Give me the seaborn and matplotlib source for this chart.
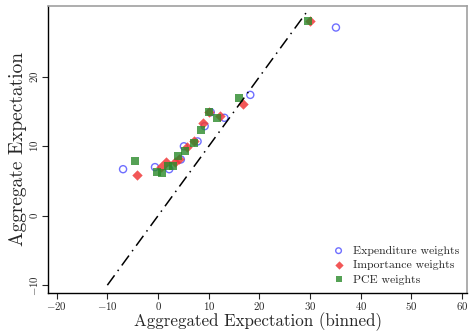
import pandas as pd
import seaborn as sns
import matplotlib.pyplot as plt

# expenditure weights (binned expectation, aggregate expectation)
exp_x = [-6.9, -0.6, 2.2, 4.5, 5.1, 7.8, 9.2, 10.4, 13.1, 18.2, 35.1]
exp_y = [6.7, 7.0, 6.7, 8.1, 10.0, 10.7, 12.9, 14.9, 14.1, 17.4, 27.1]

imp_x = [-4.1, 0.6, 1.6, 3.3, 4.1, 5.7, 7.1, 8.8, 10.0, 12.2, 16.7, 30.0]
imp_y = [5.9, 7.0, 7.7, 7.7, 8.1, 9.9, 10.7, 13.4, 14.9, 14.3, 16.1, 28.1]

pce_x = [-4.5, -0.2, 0.7, 1.9, 2.9, 3.9, 5.3, 7.0, 8.4, 10.0, 11.7, 15.9, 29.6]
pce_y = [7.9, 6.3, 6.1, 7.1, 7.2, 8.6, 9.3, 10.5, 12.4, 15.0, 14.0, 17.0, 28.1]

sns.set_style("white")
plt.rcParams['font.family'] = ['cmr10', 'DejaVu Serif']
plt.rcParams['axes.formatter.use_mathtext'] = True

fig, ax = plt.subplots(figsize=(4.71, 3.32), dpi=100)

ax.plot([-10, 29.5], [-10, 29.5], color="black", lw=1.1, dashes=[8, 3.5, 1, 3.5])

sns.scatterplot(x=exp_x, y=exp_y, ax=ax, marker="o", s=26, facecolors="none",
                edgecolor="#6f6fff", linewidth=1.0, label="Expenditure weights")
sns.scatterplot(x=imp_x, y=imp_y, ax=ax, marker="D", s=28, color="#f03a3a",
                alpha=0.85, linewidth=0, label="Importance weights")
sns.scatterplot(x=pce_x, y=pce_y, ax=ax, marker="s", s=28, color="#2a8a2a",
                alpha=0.8, linewidth=0, label="PCE weights")

ax.set_xlim(-21.7, 61)
ax.set_ylim(-11.1, 30.2)
ax.set_xticks(range(-20, 61, 10))
ax.set_yticks([-10, 0, 10, 20])
ax.tick_params(axis="both", labelsize=7.8, length=4, width=0.8, direction="out",
               bottom=True, left=True, pad=1.5)
for lab in ax.get_yticklabels():
    lab.set_rotation(90)
    lab.set_va("center")

ax.set_xlabel("Aggregated Expectation (binned)", fontsize=12.2, labelpad=0)
ax.set_ylabel("Aggregate Expectation", fontsize=14, labelpad=1)

for side in ["left", "bottom"]:
    ax.spines[side].set_color("black")
    ax.spines[side].set_linewidth(1.0)
for side in ["top", "right"]:
    ax.spines[side].set_color("#a0a0a0")
    ax.spines[side].set_linewidth(1.2)

leg = ax.legend(loc="lower right", frameon=False, fontsize=8.5, handletextpad=0.2,
                labelspacing=0.35, markerscale=0.8, borderaxespad=0.3)

plt.subplots_adjust(left=0.102, right=0.992, top=0.982, bottom=0.118)
plt.savefig("out.png", dpi=100)
